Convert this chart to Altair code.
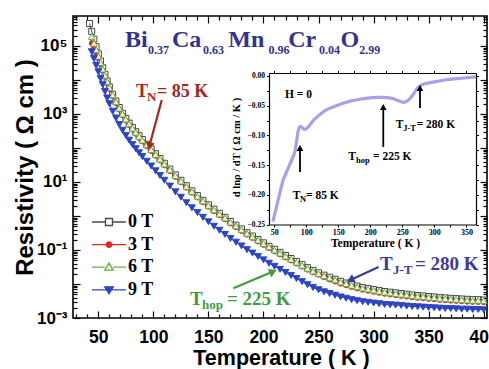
import altair as alt
import pandas as pd

# ---------------- main data: log10(resistivity / Ω cm) -------------
T_0T = [42, 44, 46, 48, 50, 52, 54, 56, 58, 60, 63, 66, 69, 72, 75, 78, 81, 84, 87, 90,
        94, 98, 102, 106, 110, 115, 120, 125, 130, 135, 140, 145, 150, 155, 160, 165, 170,
        175, 180, 185, 190, 195, 200, 205, 210, 215, 220, 225, 230, 235, 240, 245, 250,
        255, 260, 265, 270, 275, 280, 285, 290, 295, 300, 305, 310, 315, 320, 325, 330,
        335, 340, 345, 350, 355, 360, 365, 370, 375, 380, 385, 390, 395, 400]
T_FIELD = [44, 46, 48, 50, 52, 54, 56, 58, 60, 63, 66, 69, 72, 75, 78, 81, 84, 87, 90,
           94, 98, 102, 106, 110, 115, 120, 125, 130, 135, 140, 145, 150, 155, 160, 165, 170,
           175, 180, 185, 190, 195, 200, 205, 210, 215, 220, 225, 230, 235, 240, 245, 250,
           255, 260, 265, 270, 275, 280, 285, 290, 295, 300, 305, 310, 315, 320, 325, 330,
           335, 340, 345, 350, 355, 360, 365, 370, 375, 380, 385, 390, 395, 400]

LOG_0T = [5.66, 5.43, 5.20, 4.98, 4.77, 4.56, 4.36, 4.16, 3.97, 3.80, 3.58, 3.38, 3.19, 3.02,
          2.87, 2.73, 2.60, 2.48, 2.36, 2.25, 2.11, 1.97, 1.83, 1.69, 1.55, 1.38, 1.21, 1.05,
          0.89, 0.74, 0.60, 0.46, 0.33, 0.20, 0.08, -0.04, -0.16, -0.27, -0.38, -0.49, -0.59,
          -0.69, -0.79, -0.89, -0.98, -1.07, -1.16, -1.25, -1.34, -1.43, -1.52, -1.60, -1.67,
          -1.74, -1.80, -1.86, -1.92, -1.97, -2.02, -2.06, -2.10, -2.13, -2.16, -2.19, -2.22,
          -2.24, -2.26, -2.28, -2.30, -2.32, -2.34, -2.35, -2.37, -2.38, -2.40, -2.41, -2.42,
          -2.43, -2.44, -2.45, -2.46, -2.46, -2.47]
LOG_3T = [5.08, 4.95, 4.80, 4.64, 4.46, 4.28, 4.10, 3.91, 3.74, 3.52, 3.32, 3.13, 2.96, 2.81,
          2.67, 2.54, 2.42, 2.30, 2.19, 2.05, 1.91, 1.77, 1.63, 1.49, 1.32, 1.15, 0.99, 0.83,
          0.68, 0.54, 0.40, 0.27, 0.14, 0.02, -0.10, -0.22, -0.33, -0.44, -0.55, -0.65, -0.75,
          -0.85, -0.95, -1.04, -1.13, -1.22, -1.31, -1.40, -1.49, -1.58, -1.66, -1.73, -1.80,
          -1.87, -1.93, -1.99, -2.04, -2.09, -2.13, -2.17, -2.20, -2.23, -2.26, -2.29, -2.31,
          -2.33, -2.35, -2.37, -2.39, -2.41, -2.42, -2.44, -2.45, -2.47, -2.48, -2.49, -2.50,
          -2.51, -2.52, -2.53, -2.53, -2.54]
LOG_6T = [5.28, 5.08, 4.89, 4.70, 4.51, 4.32, 4.14, 3.95, 3.78, 3.56, 3.36, 3.17, 3.00, 2.85,
          2.71, 2.58, 2.46, 2.34, 2.23, 2.09, 1.95, 1.81, 1.67, 1.53, 1.36, 1.19, 1.03, 0.87,
          0.72, 0.58, 0.44, 0.31, 0.18, 0.06, -0.06, -0.18, -0.29, -0.40, -0.51, -0.61, -0.71,
          -0.81, -0.91, -1.00, -1.09, -1.18, -1.27, -1.36, -1.45, -1.54, -1.62, -1.69, -1.76,
          -1.82, -1.88, -1.94, -1.99, -2.04, -2.08, -2.12, -2.15, -2.18, -2.21, -2.24, -2.26,
          -2.28, -2.30, -2.32, -2.34, -2.36, -2.37, -2.39, -2.40, -2.42, -2.43, -2.44, -2.45,
          -2.46, -2.47, -2.48, -2.48, -2.49]
LOG_9T = [4.83, 4.63, 4.43, 4.24, 4.04, 3.86, 3.66, 3.47, 3.30, 3.08, 2.88, 2.69, 2.52, 2.37,
          2.23, 2.10, 1.98, 1.86, 1.75, 1.61, 1.47, 1.33, 1.19, 1.05, 0.88, 0.71, 0.55, 0.39,
          0.24, 0.10, -0.04, -0.17, -0.30, -0.42, -0.54, -0.66, -0.77, -0.88, -0.99, -1.09,
          -1.19, -1.29, -1.39, -1.48, -1.57, -1.66, -1.75, -1.84, -1.93, -2.02, -2.10, -2.17,
          -2.23, -2.28, -2.33, -2.38, -2.42, -2.46, -2.49, -2.52, -2.54, -2.56, -2.58, -2.60,
          -2.61, -2.62, -2.63, -2.65, -2.66, -2.67, -2.68, -2.69, -2.70, -2.71, -2.72, -2.72,
          -2.73, -2.74, -2.74, -2.75, -2.75, -2.76]

SERIES = ["0 T", "3 T", "6 T", "9 T"]

# ---------------- inset data: d ln(rho)/dT at H = 0 ----------------
INSET_T = [48, 52, 56, 60, 64, 68, 72, 76, 80, 83, 85, 87, 89, 91, 94, 97, 100, 104, 108,
           112, 116, 120, 125, 130, 135, 140, 145, 150, 160, 170, 180, 190, 200, 210, 220,
           230, 235, 240, 245, 250, 253, 256, 260, 265, 270, 275, 280, 285, 290, 300, 310,
           320, 330, 340, 350, 360, 365]
INSET_D = [-0.245, -0.228, -0.210, -0.192, -0.175, -0.165, -0.155, -0.145, -0.135, -0.125,
           -0.110, -0.095, -0.087, -0.085, -0.087, -0.090, -0.089, -0.085, -0.079, -0.074,
           -0.070, -0.066, -0.062, -0.058, -0.055, -0.053, -0.051, -0.049, -0.045, -0.042,
           -0.040, -0.038, -0.037, -0.036, -0.036, -0.037, -0.038, -0.040, -0.042, -0.044,
           -0.0445, -0.043, -0.040, -0.034, -0.026, -0.019, -0.015, -0.013, -0.012, -0.010,
           -0.008, -0.006, -0.005, -0.004, -0.003, -0.002, -0.0015]

assert len(T_0T) == len(LOG_0T)
for arr in (LOG_3T, LOG_6T, LOG_9T):
    assert len(arr) == len(T_FIELD)
assert len(INSET_T) == len(INSET_D)

# ---------------- styling ----------------
SANS = "Liberation Sans"
SERIF = "Liberation Serif"
LINE_COLORS = ["#4a4a4a", "#e0281c", "#62ad4c", "#2a44c6"]
FILL_COLORS = ["white", "#e0281c", "#eef3d2", "#2a44c6"]
SHAPES = ["square", "circle", "triangle-up", "triangle-down"]
FILLED = [False, True, True, True]
SIZES = [36, 25, 46, 48]
LEGEND_PATHS = [
    "M-3.4,0H-0.7M0.7,0H3.4M-0.7,-0.7H0.7V0.7H-0.7Z",
    "M-3.4,0H3.4M-0.55,0A0.55,0.55,0,1,0,0.55,0A0.55,0.55,0,1,0,-0.55,0Z",
    "M-3.4,0H-0.85M0.85,0H3.4M0,-0.8L0.85,0.6H-0.85Z",
    "M-3.4,0H3.4M0,0.8L0.85,-0.6H-0.85Z",
]
TITLE_C = "#33338f"
TN_C = "#a5251c"
THOP_C = "#3f9c3f"
TJT_C = "#3a3a9a"

W, H = 414, 302
XDOM = [27, 403]
YDOM = [1e-3, 7.6e5]
xs = alt.Scale(domain=XDOM, nice=False, zero=False)
ys = alt.Scale(type="log", domain=YDOM, nice=False)

# inset scales (pixel sub-range of the main plot area)
IX_RANGE = [196, 403]
IY_RANGE = [208.5, 57]
ixs = alt.Scale(domain=[42, 365], range=IX_RANGE, nice=False, zero=False)
iys = alt.Scale(domain=[-0.25, 0.005], range=IY_RANGE, nice=False, zero=False)

x_minor = list(range(30, 401, 10))
y_ticks = [m * 10.0 ** e for e in range(-3, 6) for m in range(1, 10) if m * 10.0 ** e <= YDOM[1]]
DECADE = "abs(log(datum.value)/LN10 - round(log(datum.value)/LN10)) < 0.001"

# ---------------- axes ----------------
ax_x_lab = alt.Axis(orient="bottom", values=list(range(50, 401, 50)), format="d",
                    labelFont=SANS, labelFontSize=17.5, labelFontWeight="bold", labelColor="black",
                    labelPadding=10, ticks=False, tickSize=0, domain=False, grid=False,
                    title="Temperature ( K )", titleFont=SANS, titleFontSize=21.5,
                    titleFontWeight="bold", titleColor="black", titleX=208, titleY=46,
                    titleAlign="center", titleBaseline="alphabetic")
ax_y_lab = alt.Axis(orient="left", values=[1e-3, 1e-1, 1e1, 1e3, 1e5],
                    labelExpr=("datum.value > 9999 ? '10⁵' : datum.value > 99 ? '10³' : "
                               "datum.value > 0.9 ? '10¹' : datum.value > 0.009 ? '10⁻¹' : '10⁻³'"),
                    labelFont=SANS, labelFontSize=17, labelFontWeight="bold", labelColor="black",
                    labelPadding=6, ticks=False, tickSize=0, domain=False, grid=False,
                    title="Resistivity ( Ω cm )", titleFont=SANS, titleFontSize=24,
                    titleFontWeight="bold", titleColor="black", titleX=-48, titleY=151,
                    titleAngle=270, titleAlign="center", titleBaseline="middle")
tick_x = {"condition": {"test": "datum.value % 50 === 0", "value": 7}, "value": 4}
tick_y = {"condition": {"test": DECADE, "value": 7}, "value": 4}
# inward ticks along the bottom / left frame
ax_x_in_b = alt.Axis(orient="top", offset=-H, values=x_minor, labels=False, domain=False,
                     grid=False, tickSize=tick_x, tickWidth=1.2, tickColor="black", title="")
ax_y_in_l = alt.Axis(orient="right", offset=-W, values=y_ticks, labels=False, domain=False,
                     grid=False, tickSize=tick_y, tickWidth=1.2, tickColor="black", title="")
# inward ticks along the top / right frame
ax_x_in_t = alt.Axis(orient="bottom", offset=-H, values=x_minor, labels=False, domain=False,
                     grid=False, tickSize=tick_x, tickWidth=1.2, tickColor="black", title="")
ax_y_in_r = alt.Axis(orient="left", offset=-W, values=y_ticks, labels=False, domain=False,
                     grid=False, tickSize=tick_y, tickWidth=1.2, tickColor="black", title="")

ix_vals = list(range(50, 351, 25))
iy_vals = [round(-0.25 + 0.025 * i, 3) for i in range(11)]
ax_ix = alt.Axis(orient="bottom", offset=IY_RANGE[0] - H, values=ix_vals,
                 labelExpr="datum.value % 50 === 0 ? datum.label : ''",
                 labelFont=SERIF, labelFontSize=8, labelFontWeight="bold", labelColor="black",
                 labelPadding=1, tickSize=2.5, tickColor="black", domainColor="black",
                 domainWidth=1.2, grid=False, title="Temperature ( K )", titleFont=SERIF,
                 titleFontSize=11.5, titleFontWeight="bold", titleColor="black",
                 titleX=302, titleY=18.5, titleAlign="center", titleBaseline="middle")
ax_iy = alt.Axis(orient="left", offset=-IX_RANGE[0], values=iy_vals,
                 labelExpr="abs(round(datum.value*20) - datum.value*20) < 0.001 ? format(datum.value, '.2f') : ''",
                 labelFont=SERIF, labelFontSize=7.5, labelFontWeight="bold", labelColor="black",
                 labelPadding=2, tickSize=2.5, tickColor="black", domainColor="black",
                 domainWidth=1.2, grid=False, title="d lnρ / dT ( Ω cm / K )", titleFont=SERIF,
                 titleFontSize=10.5, titleFontWeight="bold", titleColor="black",
                 titleX=-33, titleY=131, titleAngle=270, titleAlign="center",
                 titleBaseline="middle")
ax_ix_top = alt.Axis(orient="top", offset=-IY_RANGE[1], values=ix_vals, labels=False,
                     tickSize=2.5, tickColor="black", domainColor="black", domainWidth=1.2,
                     grid=False, title="")
ax_iy_right = alt.Axis(orient="right", offset=IX_RANGE[1] - W, values=iy_vals, labels=False,
                       tickSize=2.5, tickColor="black", domainColor="black", domainWidth=1.2,
                       grid=False, title="")

# ---------------- main series ----------------
frames = []
frames.append(pd.DataFrame({"T": T_0T, "rho": [10 ** v for v in LOG_0T], "series": SERIES[0]}))
for name, arr in zip(SERIES[1:], (LOG_3T, LOG_6T, LOG_9T)):
    frames.append(pd.DataFrame({"T": T_FIELD, "rho": [10 ** v for v in arr], "series": name}))

main_layers = []
for i, df in enumerate(frames):
    xa = ax_x_lab if i == 0 else None
    ya = ax_y_lab if i == 0 else None
    main_layers.append(
        alt.Chart(df).mark_line(color=LINE_COLORS[i], strokeWidth=1).encode(
            x=alt.X("T:Q", scale=xs, axis=xa), y=alt.Y("rho:Q", scale=ys, axis=ya)))
for i, df in enumerate(frames):
    if FILLED[i]:
        mk = alt.Chart(df).mark_point(shape=SHAPES[i], filled=True, fill=FILL_COLORS[i],
                                      stroke=LINE_COLORS[i], strokeWidth=0.9, size=SIZES[i],
                                      opacity=1)
    else:
        mk = alt.Chart(df).mark_point(shape=SHAPES[i], filled=False, color=LINE_COLORS[i],
                                      strokeWidth=1, size=SIZES[i], opacity=1)
    main_layers.append(mk.encode(x=alt.X("T:Q", scale=xs, axis=None),
                                 y=alt.Y("rho:Q", scale=ys, axis=None)))

# legend (drawn by the library from scale domains)
LEG = alt.Legend(orient="none", legendX=27, legendY=197, title=None, labelFont=SERIF,
                 labelFontSize=18, labelFontWeight="bold", labelColor="black", labelOffset=10,
                 symbolSize=100, symbolStrokeWidth=1.3, rowPadding=4.6, padding=0,
                 symbolOpacity=1)
leg_df = pd.DataFrame({"series": SERIES, "T": [0, 0, 0, 0], "rho": [1, 1, 1, 1]})
main_layers.append(
    alt.Chart(leg_df).mark_point(size=100, filled=False, opacity=1, strokeWidth=1.3)
    .encode(x=alt.X("T:Q", scale=xs, axis=None), y=alt.Y("rho:Q", scale=ys, axis=None),
            shape=alt.Shape("series:N", scale=alt.Scale(domain=SERIES, range=LEGEND_PATHS), legend=LEG),
            stroke=alt.Stroke("series:N", scale=alt.Scale(domain=SERIES, range=LINE_COLORS), legend=LEG),
            fill=alt.Fill("series:N", scale=alt.Scale(domain=SERIES, range=FILL_COLORS), legend=LEG))
    .transform_filter("datum.T > 1000"))


def text_layer(texts, xv, yv, size, color, sx, sy, xaxis=None, yaxis=None):
    df = pd.DataFrame({"x": xv, "y": yv, "t": texts})
    return alt.Chart(df).mark_text(font=SERIF, fontWeight="bold", fontSize=size, color=color,
                                   align="left", baseline="alphabetic").encode(
        x=alt.X("x:Q", scale=sx, axis=xaxis), y=alt.Y("y:Q", scale=sy, axis=yaxis), text="t:N")


# ---------------- main annotations ----------------
main_layers.append(text_layer(["Bi", "Ca", "Mn", "Cr", "O"], [74.2, 116.9, 168.0, 222.5, 270.0],
                              [9.33e4] * 5, 24, TITLE_C, xs, ys, ax_x_in_b, ax_y_in_l))
main_layers.append(text_layer(["0.37", "0.63", "0.96", "0.04", "2.99"],
                              [95.1, 145.1, 204.5, 250.5, 287.0], [5.82e4] * 5, 12, TITLE_C, xs, ys))
main_layers.append(text_layer(["T", "= 85 K"], [84.2, 103.3], [3162, 3162], 18, TN_C, xs, ys))
main_layers.append(text_layer(["N"], [94.2], [2400], 13, TN_C, xs, ys))
main_layers.append(text_layer(["T", "= 225 K"], [133.3, 166.9], [2.41e-3, 2.41e-3], 19, THOP_C, xs, ys))
main_layers.append(text_layer(["hop"], [144.2], [1.84e-3], 13, THOP_C, xs, ys))
main_layers.append(text_layer(["T", "= 280 K"], [305.8, 337.6], [2.58e-2, 2.58e-2], 19, TJT_C, xs, ys))
main_layers.append(text_layer(["J-T"], [317.6], [1.97e-2], 13, TJT_C, xs, ys))

ARROWS = [  # tail T, tail rho, head T, head rho, angle, colour
    (107.6, 2.57e3, 96.4, 114.0, 195, TN_C),
    (172.6, 7.48e-3, 208.7, 2.32e-2, 67, THOP_C),
    (304.5, 3.15e-2, 278.9, 1.31e-2, 246, TJT_C),
]
for k, (t0, r0, t1, r1, ang, col) in enumerate(ARROWS):
    adf = pd.DataFrame({"x0": [t0], "y0": [r0], "x1": [t1], "y1": [r1]})
    xa = ax_x_in_t if k == 0 else None
    ya = ax_y_in_r if k == 0 else None
    main_layers.append(alt.Chart(adf).mark_rule(color=col, strokeWidth=2.2).encode(
        x=alt.X("x0:Q", scale=xs, axis=xa), y=alt.Y("y0:Q", scale=ys, axis=ya),
        x2="x1:Q", y2="y1:Q"))
    main_layers.append(alt.Chart(adf).mark_point(shape="triangle-up", filled=True, color=col,
                                                 size=80, angle=ang, opacity=1).encode(
        x=alt.X("x1:Q", scale=xs, axis=None), y=alt.Y("y1:Q", scale=ys, axis=None)))

main = alt.layer(*main_layers).resolve_axis(x="independent", y="independent")

# ---------------- inset ----------------
idf = pd.DataFrame({"T": INSET_T, "d": INSET_D})
inset_layers = [
    alt.Chart(idf).mark_line(color="#a3a3e6", strokeWidth=3.2).encode(
        x=alt.X("T:Q", scale=ixs, axis=ax_ix), y=alt.Y("d:Q", scale=iys, axis=ax_iy)),
    text_layer(["H = 0"], [67], [-0.037], 11.5, "black", ixs, iys, ax_ix_top, ax_iy_right),
    text_layer(["T", "= 85 K"], [79, 99.7], [-0.207, -0.207], 11.5, "black", ixs, iys),
    text_layer(["N"], [90.4], [-0.212], 8.5, "black", ixs, iys),
    text_layer(["T", "= 225 K"], [165.7, 204.2], [-0.1414, -0.1414], 11.5, "black", ixs, iys),
    text_layer(["hop"], [177.7], [-0.1465], 8.5, "black", ixs, iys),
    text_layer(["T", "= 280 K"], [239.7, 272.4], [-0.0876, -0.0876], 11.5, "black", ixs, iys),
    text_layer(["J-T"], [251.5], [-0.0926], 8.5, "black", ixs, iys),
]
INSET_ARROWS = [  # T, tail value, head value
    (90.4, -0.1616, -0.1212),
    (220.3, -0.1195, -0.0522),
    (277.6, -0.0539, -0.0202),
]
for (t, v0, v1) in INSET_ARROWS:
    adf = pd.DataFrame({"x": [t], "y0": [v0], "y1": [v1]})
    inset_layers.append(alt.Chart(adf).mark_rule(color="black", strokeWidth=1.8).encode(
        x=alt.X("x:Q", scale=ixs, axis=None), y=alt.Y("y0:Q", scale=iys, axis=None), y2="y1:Q"))
    inset_layers.append(alt.Chart(adf).mark_point(shape="triangle-up", filled=True,
                                                  color="black", size=45, opacity=1).encode(
        x=alt.X("x:Q", scale=ixs, axis=None), y=alt.Y("y1:Q", scale=iys, axis=None)))

inset = alt.layer(*inset_layers).resolve_axis(x="independent", y="independent")

chart = (alt.layer(main, inset)
         .resolve_scale(x="independent", y="independent")
         .properties(width=W, height=H, background="white",
                     padding={"left": 73, "top": 16, "right": 2, "bottom": 51},
                     autosize=alt.AutoSizeParams(type="none"))
         .configure_view(stroke="black", strokeWidth=1.6))

chart.save("out.html", embed_options={"renderer": "svg", "actions": False})
